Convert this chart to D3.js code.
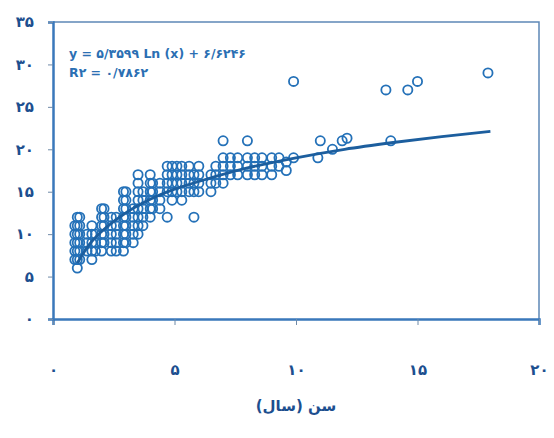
<!DOCTYPE html>
<html>
<head>
<meta charset="utf-8">
<script src="https://cdn.jsdelivr.net/npm/d3@7"></script>
<style>
  body { margin: 0; background: #fff; }
  svg { display: block; }
  .axis text { font-family: "DejaVu Sans", sans-serif; font-weight: bold; font-size: 15px; fill: #1d4f8f; }
</style>
</head>
<body>
<script>
(function () {

    //age columns (years) and the values stacked in each column
    var columnAges = [0.9, 1.0, 1.1, 1.4, 1.6, 1.75, 2.0, 2.1, 2.4, 2.6, 2.9, 3.0, 3.3, 3.5, 3.7,
        4.0, 4.1, 4.4, 4.7, 4.9, 5.1, 5.3, 5.6, 5.8, 6.0, 6.5, 6.7, 7.0, 7.3, 7.6, 8.0, 8.3, 8.6,
        9.0, 9.3, 9.6, 9.9, 10.9, 11.0, 11.5, 11.9, 12.1, 13.7, 13.9, 14.6, 15.0, 17.9];
    var columnValues = [
        [7, 8, 9, 10, 11], [6, 7, 8, 9, 10, 11, 12], [7, 8, 9, 10, 11, 12], [8, 9, 10],
        [7, 8, 9, 10, 11], [8, 9, 10], [8, 9, 10, 11, 12, 13], [9, 10, 11, 12, 13],
        [8, 9, 10, 11, 12], [8, 9, 10, 11, 12], [8, 9, 10, 11, 12, 13, 14, 15],
        [9, 10, 11, 12, 13, 14, 15], [9, 10, 11, 12, 13], [10, 11, 12, 13, 14, 15, 16, 17],
        [11, 12, 13, 14, 15], [12, 13, 14, 15, 16, 17], [13, 14, 15, 16], [13, 14, 15, 16],
        [12, 15, 16, 17, 18], [14, 15, 16, 17, 18], [15, 16, 17, 18], [14, 15, 16, 17, 18],
        [15, 16, 17, 18], [12, 15, 16, 17], [15, 16, 17, 18], [15, 16, 17], [16, 17, 18],
        [16, 17, 18, 19, 21], [17, 18, 19], [17, 18, 19], [17, 18, 19, 21], [17, 18, 19],
        [17, 18, 19], [17, 18, 19], [18, 19], [17.5, 18.5], [19, 28], [19], [21], [20], [21],
        [21.3], [27], [21], [27], [28], [29]
    ];

    //trend line
    var trendAges = [1, 1.5, 2, 3, 4, 5, 6, 8, 10, 12, 14, 16, 18];
    var trendValues = [6.6, 8.8, 10.3, 12.5, 14.1, 15.3, 16.2, 17.8, 19.0, 20.0, 20.8, 21.5, 22.1];

    var xTicks = [0, 5, 10, 15, 20];
    var yTicks = [0, 5, 10, 15, 20, 25, 30, 35];
    var equationLines = ["y = ۵/۳۵۹۹ Ln (x) + ۶/۶۲۴۶", "R۲ = ۰/۷۸۶۲"];
    var xTitle = "سن (سال)";

    var width = 554, height = 438;
    var left = 53, right = 539, top = 22, bottom = 319;

    var persian = function (n) {
        return String(n).replace(/\d/g, function (c) { return "۰۱۲۳۴۵۶۷۸۹"[+c]; });
    };

    var svg = d3.select("body")
        .append("svg")
        .attr("width", width)
        .attr("height", height);

    var x = d3.scaleLinear().domain([0, 20]).range([left, right]);
    var y = d3.scaleLinear().domain([0, 35]).range([bottom, top]);

    //thin frame on top and right
    svg.append("path")
        .attr("d", "M" + left + "," + top + "H" + right + "V" + bottom)
        .attr("fill", "none")
        .attr("stroke", "#5e88b6")
        .attr("stroke-width", 1.5);

    //axes
    var xAxis = svg.append("g")
        .attr("class", "axis")
        .attr("transform", "translate(0," + bottom + ")")
        .call(d3.axisBottom(x).tickValues(xTicks).tickSize(6).tickPadding(39).tickFormat(persian));
    var yAxis = svg.append("g")
        .attr("class", "axis")
        .attr("transform", "translate(" + left + ",0)")
        .call(d3.axisLeft(y).tickValues(yTicks).tickSize(5).tickPadding(14).tickFormat(persian));

    [xAxis, yAxis].forEach(function (g) {
        g.select(".domain").attr("stroke", "#3a78bb").attr("stroke-width", 2.5);
        g.selectAll(".tick line").attr("stroke", "#6f8aa8").attr("stroke-width", 1);
    });

    //flatten columns into points
    var points = [];
    columnAges.forEach(function (a, i) {
        columnValues[i].forEach(function (v) {
            points.push({ age: a, value: v });
        });
    });

    svg.append("g")
        .selectAll("circle")
        .data(points)
        .enter()
        .append("circle")
        .attr("cx", function (d) { return x(d.age); })
        .attr("cy", function (d) { return y(d.value); })
        .attr("r", 4.6)
        .attr("fill", "none")
        .attr("stroke", "#2471b8")
        .attr("stroke-width", 1.8);

    //trend line
    var line = d3.line()
        .x(function (d, i) { return x(trendAges[i]); })
        .y(function (d) { return y(d); })
        .curve(d3.curveMonotoneX);

    svg.append("path")
        .datum(trendValues)
        .attr("d", line)
        .attr("fill", "none")
        .attr("stroke", "#1c5e9e")
        .attr("stroke-width", 2.8);

    //equation
    svg.append("g")
        .selectAll("text")
        .data(equationLines)
        .enter()
        .append("text")
        .attr("x", 69)
        .attr("y", function (d, i) { return 58 + i * 19; })
        .attr("font-family", "DejaVu Sans, sans-serif")
        .attr("font-weight", "bold")
        .attr("font-size", 12.5)
        .attr("fill", "#2b6fb3")
        .text(function (d) { return d; });

    //axis title
    svg.append("text")
        .attr("x", (left + right) / 2)
        .attr("y", 411)
        .attr("text-anchor", "middle")
        .attr("direction", "rtl")
        .attr("font-family", "DejaVu Sans, sans-serif")
        .attr("font-weight", "bold")
        .attr("font-size", 15)
        .attr("fill", "#1d4f8f")
        .text(xTitle);

})();
</script>
</body>
</html>
